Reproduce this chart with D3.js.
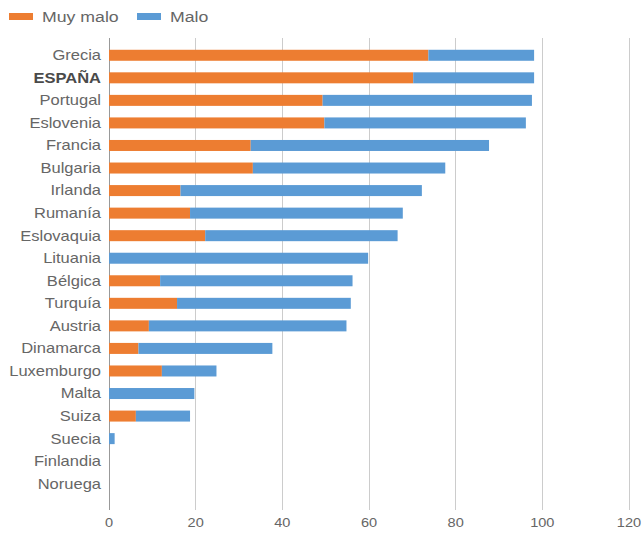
<!DOCTYPE html>
<html><head><meta charset="utf-8">
<script src="https://cdn.jsdelivr.net/npm/d3@7"></script>
<style>body{margin:0;background:#fff}svg{display:block}</style>
</head><body>
<svg id="c" width="642" height="536"></svg>
<script>
const countries = ["Grecia","ESPAÑA","Portugal","Eslovenia","Francia","Bulgaria","Irlanda","Rumanía","Eslovaquia","Lituania","Bélgica","Turquía","Austria","Dinamarca","Luxemburgo","Malta","Suiza","Suecia","Finlandia","Noruega"];
const muyMalo = [73.7,70.2,49.3,49.7,32.7,33.2,16.5,18.7,22.2,0,11.8,15.7,9.2,6.8,12.2,0,6.2,0,0,0];
const malo    = [24.4,27.9,48.3,46.5,55.0,44.4,55.7,49.1,44.4,59.8,44.4,40.1,45.6,30.9,12.6,19.7,12.5,1.3,0,0];
const seriesNames = ["Muy malo","Malo"];
const seriesColors = ["#ED7D31","#5B9BD5"];
const xTicks = [0,20,40,60,80,100,120];

const svg = d3.select("#c");
const font = "'Liberation Sans', Arial, sans-serif";
const sx = 1.18; // horizontal stretch of text in the reference image
const x = d3.scaleLinear().domain([0,120]).range([109,629]);
const y = d3.scaleBand().domain(countries).range([44,495]);
const barH = 11;

// gridlines
svg.append("g").selectAll("line").data(xTicks).join("line")
  .attr("x1", d=>x(d)).attr("x2", d=>x(d)).attr("y1",38).attr("y2",510)
  .attr("stroke", d=> d===0 ? "#999" : "#ccc").attr("stroke-width",1)
  .attr("shape-rendering","crispEdges");

const data = countries.map((c,i)=>({c, a:muyMalo[i], b:malo[i]}));
const stack = d3.stack().keys(["a","b"])(data);
svg.append("g").selectAll("g").data(stack).join("g")
  .attr("fill",(d,i)=>seriesColors[i])
  .selectAll("rect").data(d=>d).join("rect")
  .attr("x", d=>x(d[0])).attr("width", d=>Math.max(0, x(d[1])-x(d[0])))
  .attr("y", d=>y(d.data.c)+y.bandwidth()/2-barH/2).attr("height", barH);

// category labels
svg.append("g").selectAll("text").data(countries).join("text")
  .attr("transform", d=>`translate(101,${y(d)+y.bandwidth()/2}) scale(${sx},1)`)
  .attr("dy","0.35em")
  .attr("text-anchor","end").attr("font-family",font).attr("font-size",14)
  .attr("font-weight", d=> d==="ESPAÑA" ? "bold" : "normal")
  .attr("fill", d=> d==="ESPAÑA" ? "#4a4a4a" : "#666").text(d=>d);

// x tick labels
svg.append("g").selectAll("text").data(xTicks).join("text")
  .attr("transform", d=>`translate(${x(d)},527) scale(1.12,1)`)
  .attr("text-anchor","middle")
  .attr("font-family",font).attr("font-size",13).attr("fill","#666").text(d=>d);

// legend
const leg = [{n:seriesNames[0],c:seriesColors[0],x:9},{n:seriesNames[1],c:seriesColors[1],x:137}];
const lg = svg.append("g");
lg.selectAll("rect").data(leg).join("rect")
  .attr("x",d=>d.x).attr("y",13).attr("width",24).attr("height",7).attr("fill",d=>d.c);
lg.selectAll("text").data(leg).join("text")
  .attr("transform", d=>`translate(${d.x+33},17) scale(${sx},1)`)
  .attr("dy","0.35em")
  .attr("font-family",font).attr("font-size",15).attr("fill","#666").text(d=>d.n);
</script>
</body></html>
